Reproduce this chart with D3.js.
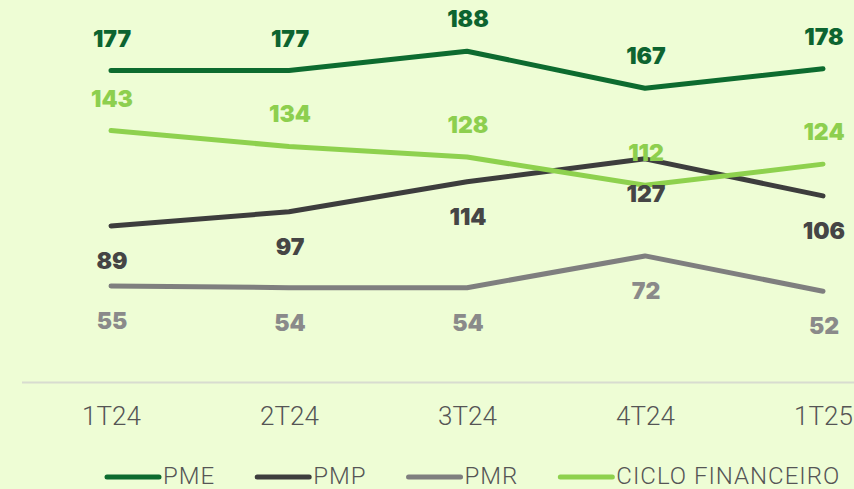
<!DOCTYPE html>
<html>
<head>
<meta charset="utf-8">
<script src="https://cdn.jsdelivr.net/npm/d3@7"></script>
<style>
  body { margin: 0; background: #eefdd5; }
  svg { display: block; }
</style>
</head>
<body>
<script>
// data
var periods = ["1T24", "2T24", "3T24", "4T24", "1T25"];
var pme = [177, 177, 188, 167, 178];
var pmp = [89, 97, 114, 127, 106];
var pmr = [55, 54, 54, 72, 52];
var ciclo = [143, 134, 128, 112, 124];
var seriesNames = ["PME", "PMP", "PMR", "CICLO FINANCEIRO"];

var drawChart = function()
{
  var screen = {
    width: 854,
    height: 489
  };

  var series = [
    {name: seriesNames[0], values: pme, color: "#0d6b2f", labelColor: "#0d6430", pos: "above"},
    {name: seriesNames[1], values: pmp, color: "#3d3d3d", labelColor: "#454545", pos: "below"},
    {name: seriesNames[2], values: pmr, color: "#7f7f7f", labelColor: "#8a8a8a", pos: "below"},
    {name: seriesNames[3], values: ciclo, color: "#8ed14e", labelColor: "#8dcf4f", pos: "above"}
  ];

  var xScale = d3.scalePoint()
                 .domain(periods)
                 .range([111, 823]);

  var yScale = d3.scaleLinear()
                 .domain([0, 200])
                 .range([383, 30]);

  var svg = d3.select("body")
              .append("svg")
              .attr("width", screen.width)
              .attr("height", screen.height);

  svg.append("rect")
     .attr("width", screen.width)
     .attr("height", screen.height)
     .attr("fill", "#eefdd5");

  // baseline
  svg.append("line")
     .attr("x1", 22)
     .attr("x2", screen.width)
     .attr("y1", yScale(0) - 0.5)
     .attr("y2", yScale(0) - 0.5)
     .attr("stroke", "#d8dcd0")
     .attr("stroke-width", 2);

  // xAxis
  var xAxis = d3.axisBottom(xScale)
                .tickSize(0)
                .tickPadding(24);

  var axisG = svg.append("g")
                 .attr("class", "xAxis")
                 .attr("transform", "translate(0," + yScale(0) + ")")
                 .call(xAxis);

  axisG.select(".domain").remove();
  axisG.selectAll("text")
       .attr("font-family", "Roboto, 'Liberation Sans', sans-serif")
       .attr("font-weight", 300)
       .attr("font-size", 26)
       .attr("fill", "#555555");

  var line = d3.line()
               .x(function(d, i) {return xScale(periods[i]);})
               .y(function(d) {return yScale(d);});

  // lines
  svg.append("g")
     .attr("class", "lines")
     .selectAll("path")
     .data(series)
     .enter()
     .append("path")
     .attr("d", function(d) {return line(d.values);})
     .attr("fill", "none")
     .attr("stroke", function(d) {return d.color;})
     .attr("stroke-width", 5)
     .attr("stroke-linecap", "round")
     .attr("stroke-linejoin", "round");

  // value labels
  series.forEach(function(s) {
    svg.append("g")
       .attr("class", "labels")
       .selectAll("text")
       .data(s.values)
       .enter()
       .append("text")
       .attr("x", function(d, i) {return xScale(periods[i]) + 1;})
       .attr("y", function(d) {return s.pos == "above" ? yScale(d) - 24 : yScale(d) + 43;})
       .attr("text-anchor", "middle")
       .attr("font-family", "Inter, 'Liberation Sans', sans-serif")
       .attr("font-weight", 900)
       .attr("font-size", 23)
       .attr("fill", s.labelColor)
       .text(function(d) {return d;});
  });

  // legend
  var legend = svg.append("g")
                  .attr("class", "legend");

  var lx = 105;
  series.forEach(function(s) {
    legend.append("line")
          .attr("x1", lx + 2)
          .attr("x2", lx + 54)
          .attr("y1", 477)
          .attr("y2", 477)
          .attr("stroke", s.color)
          .attr("stroke-width", 5)
          .attr("stroke-linecap", "round");

    var t = legend.append("text")
                  .attr("x", lx + 58)
                  .attr("y", 484)
                  .attr("font-family", "Roboto, 'Liberation Sans', sans-serif")
                  .attr("font-weight", 300)
                  .attr("font-size", 24)
                  .attr("letter-spacing", 1)
                  .attr("fill", "#555555")
                  .text(s.name);

    lx = lx + 58 + t.node().getComputedTextLength() + 40;
  });
}

drawChart();
</script>
</body>
</html>
